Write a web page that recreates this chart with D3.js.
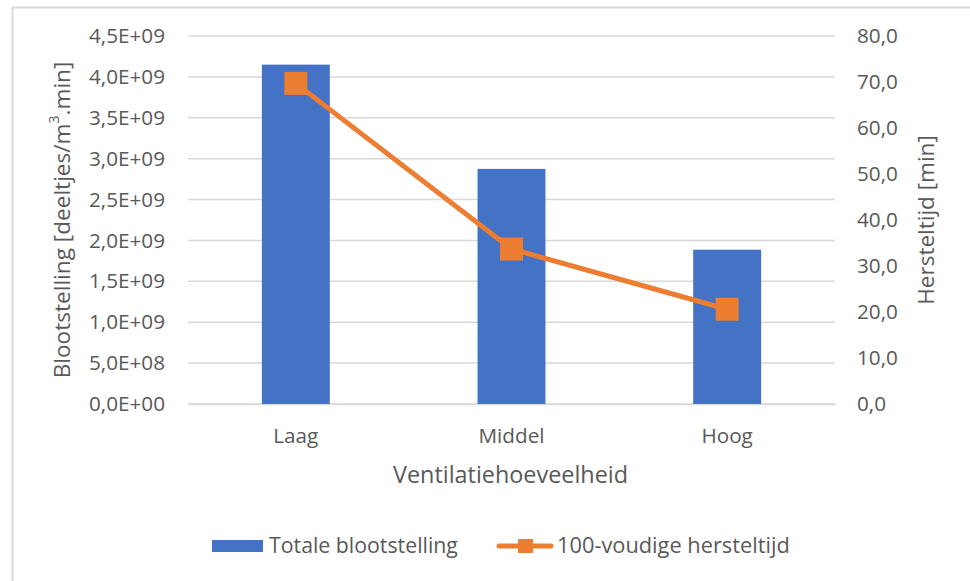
<!DOCTYPE html>
<html><head><meta charset="utf-8">
<script src="https://cdn.jsdelivr.net/npm/d3@7"></script>
<style>body{margin:0;background:#fff}svg{display:block}text{font-family:"Open Sans",sans-serif;fill:#595959}</style>
</head><body><svg id="c" width="970" height="581"></svg>
<script>
const categories = ["Laag", "Middel", "Hoog"];
const exposure = [4.15e9, 2.875e9, 1.887e9];
const recovery = [69.7, 33.7, 20.6];
const leftTicks = [0, 5e8, 1e9, 1.5e9, 2e9, 2.5e9, 3e9, 3.5e9, 4e9, 4.5e9];
const rightTicks = [0, 10, 20, 30, 40, 50, 60, 70, 80];
const seriesNames = ["Totale blootstelling", "100-voudige hersteltijd"];

const svg = d3.select("#c");
// chart border
svg.append("rect").attr("x", 12.5).attr("y", 7.5).attr("width", 980).attr("height", 600)
  .attr("fill", "#fff").attr("stroke", "#d9d9d9").attr("stroke-width", 2);

const x0 = 188, x1 = 835, yTop = 36, yBot = 404;
const x = d3.scaleBand().domain(categories).range([x0, x1]).paddingInner(0.685).paddingOuter(0.3425);
const yL = d3.scaleLinear().domain([0, 4.5e9]).range([yBot, yTop]);
const yR = d3.scaleLinear().domain([0, 80]).range([yBot, yTop]);

// gridlines
svg.append("g").selectAll("line").data(leftTicks).join("line")
  .attr("x1", x0).attr("x2", x1).attr("y1", d => yL(d)).attr("y2", d => yL(d))
  .attr("stroke", "#d9d9d9").attr("stroke-width", 1.5);

const fmtL = d => { const s = d3.format(".1e")(d).replace(".", ","); const [m, e] = s.split("e"); const n = +e; return m + "E" + (n < 0 ? "-" : "+") + String(Math.abs(n)).padStart(2, "0"); };
const fmtR = d => d3.format(".1f")(d).replace(".", ",");
const tickFont = "20.7px";

// left axis
const axL = svg.append("g").attr("transform", `translate(${x0},0)`)
  .call(d3.axisLeft(yL).tickValues(leftTicks).tickFormat(fmtL).tickSize(0).tickPadding(23));
axL.select(".domain").remove();
axL.selectAll("text").style("font-size", tickFont).attr("fill", "#595959").attr("font-family", null);

// right axis
const axR = svg.append("g").attr("transform", `translate(${x1},0)`)
  .call(d3.axisRight(yR).tickValues(rightTicks).tickFormat(fmtR).tickSize(0).tickPadding(22));
axR.select(".domain").remove();
axR.selectAll("text").style("font-size", tickFont).attr("fill", "#595959").attr("font-family", null);

// bottom axis
const axB = svg.append("g").attr("transform", `translate(0,${yBot})`)
  .call(d3.axisBottom(x).tickSize(0));
axB.select(".domain").attr("stroke", "#d9d9d9").attr("stroke-width", 1.5);
axB.selectAll("text").attr("y", 39).attr("dy", null).style("font-size", tickFont).attr("fill", "#595959").attr("font-family", null);

// bars
svg.append("g").selectAll("rect").data(categories).join("rect")
  .attr("x", d => x(d)).attr("width", x.bandwidth())
  .attr("y", (d, i) => yL(exposure[i])).attr("height", (d, i) => yBot - yL(exposure[i]))
  .attr("fill", "#4472c4");

// line
const cx = d => x(d) + x.bandwidth() / 2;
const line = d3.line().x((d, i) => cx(categories[i])).y(d => yR(d));
svg.append("path").datum(recovery).attr("d", line).attr("fill", "none")
  .attr("stroke", "#ed7d31").attr("stroke-width", 5).attr("stroke-linejoin", "round");
const ms = 23;
svg.append("g").selectAll("rect").data(recovery).join("rect")
  .attr("x", (d, i) => cx(categories[i]) - ms / 2).attr("y", d => yR(d) - ms / 2)
  .attr("width", ms).attr("height", ms).attr("fill", "#ed7d31");

// axis titles
svg.append("text").attr("x", 510.5).attr("y", 483).attr("text-anchor", "middle")
  .style("font-size", "23.4px").text("Ventilatiehoeveelheid");
svg.append("text").attr("transform", "translate(64,220) rotate(-90)").attr("text-anchor", "middle").attr("dominant-baseline", "middle")
  .style("font-size", "22.6px").html('Blootstelling [deeltjes/m<tspan dy="-9" style="font-size:14px">3</tspan><tspan dy="9">.min]</tspan>');
svg.append("text").attr("transform", "translate(928,220) rotate(-90)").attr("text-anchor", "middle").attr("dominant-baseline", "middle")
  .style("font-size", "22.5px").text("Hersteltijd [min]");

// legend
const lg = svg.append("g");
lg.append("rect").attr("x", 212).attr("y", 540).attr("width", 51).attr("height", 12).attr("fill", "#4472c4");
lg.append("text").attr("x", 269).attr("y", 553).style("font-size", "21.3px").text(seriesNames[0]);
lg.append("line").attr("x1", 499).attr("x2", 551).attr("y1", 546).attr("y2", 546).attr("stroke", "#ed7d31").attr("stroke-width", 5).attr("stroke-linecap", "round");
lg.append("rect").attr("x", 518).attr("y", 539).attr("width", 15).attr("height", 14).attr("fill", "#ed7d31");
lg.append("text").attr("x", 557).attr("y", 553).style("font-size", "21.8px").text(seriesNames[1]);
</script></body></html>
